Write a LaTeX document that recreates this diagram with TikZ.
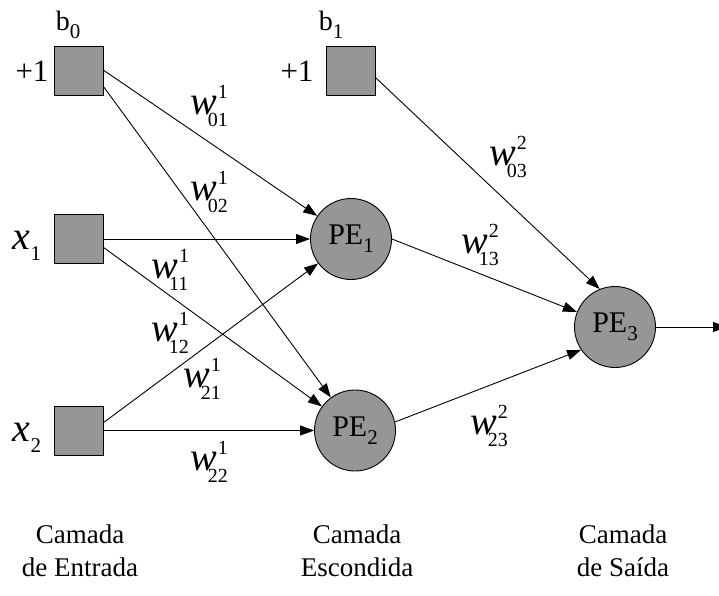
\documentclass[tikz,border=0pt]{standalone}
\usepackage{fontspec}
\setmainfont{Liberation Serif}
\usetikzlibrary{arrows.meta,calc}

% index sizes
\newcommand{\idxsz}{\fontsize{20}{20}\selectfont}
\newcommand{\subsz}{\fontsize{21}{21}\selectfont}
% weight label: italic w with layer superscript and index subscript
\newcommand{\wl}[2]{\textit{w}\kern1pt\rlap{\raisebox{16pt}{\idxsz #1}}\kern-10pt\raisebox{-12pt}{\idxsz #2}}
% upright text with a lowered index
\newcommand{\subl}[3]{#1\raisebox{-#3}{\subsz #2}}

\definecolor{nodegray}{RGB}{150,150,150}
\tikzset{
  unit/.style={draw=black, line width=0.9pt, fill=nodegray, minimum size=49pt, inner sep=0pt},
  neuron/.style={circle, draw=black, line width=0.9pt, fill=nodegray, minimum size=81pt, inner sep=0pt,
                 font=\fontsize{30}{30}\selectfont},
  lbl/.style={font=\fontsize{28}{28}\selectfont, inner sep=0pt},
  plus/.style={font=\fontsize{31}{31}\selectfont, inner sep=0pt},
  wlbl/.style={font=\fontsize{40}{40}\selectfont, inner sep=0pt},
  caption/.style={font=\fontsize{27}{33}\selectfont, align=center, inner sep=0pt},
  arr/.style={line width=0.9pt, -{Triangle[length=14pt,width=10pt]}}
}

\begin{document}
\begin{tikzpicture}[x=1pt,y=-1pt]
  \useasboundingbox (0,0) rectangle (719,596);

  % input layer
  \node[unit] (b0) at (79,70.5) {};
  \node[unit] (x1) at (79,239) {};
  \node[unit] (x2) at (79,430.5) {};
  % hidden bias
  \node[unit] (b1) at (351,70.5) {};
  % processing elements
  \node[neuron] (PE1) at (351,239) {\subl{PE}{1}{8pt}};
  \node[neuron] (PE2) at (355,430.5) {\subl{PE}{2}{8pt}};
  \node[neuron] (PE3) at (615,327) {\subl{PE}{3}{8pt}};
  \coordinate (out) at (727,327);

  % unit labels
  \node[lbl] (lb0) at (68,25) {\subl{b}{0}{8pt}};
  \node[plus] (lp0) at (32,71) {+1};
  \node[lbl] (lb1) at (331,25) {\subl{b}{1}{8pt}};
  \node[plus] (lp1) at (297,71) {+1};
  \node[wlbl] (lx1) at (27,246) {\textit{x}\raisebox{-11pt}{\subsz 1}};
  \node[wlbl] (lx2) at (27,438) {\textit{x}\raisebox{-11pt}{\subsz 2}};

  % connections
  \draw[arr] (b0.east) -- (PE1);
  \draw[arr] ($(b0.east)!0.67!(b0.south east)$) -- (PE2);
  \draw[arr] (x1.east) -- (PE1);
  \draw[arr] ($(x1.east)!0.35!(x1.south east)$) -- (PE2);
  \draw[arr] ($(x2.east)!0.33!(x2.north east)$) -- (PE1);
  \draw[arr] (x2.east) -- (PE2);
  \draw[arr] ($(b1.east)!0.3!(b1.south east)$) -- (PE3.112);
  \draw[arr] (PE1.east) -- (PE3);
  \draw[arr] (PE2.12) -- (PE3.214);
  \draw[arr] (PE3.east) -- (out);

  % weights
  \node[wlbl] (w01) at (209,106) {\wl{1}{01}};
  \node[wlbl] (w02) at (209,192) {\wl{1}{02}};
  \node[wlbl] (w11) at (170,270) {\wl{1}{11}};
  \node[wlbl] (w12) at (170,333) {\wl{1}{12}};
  \node[wlbl] (w21) at (202,379) {\wl{1}{21}};
  \node[wlbl] (w22) at (209,462) {\wl{1}{22}};
  \node[wlbl] (w03) at (508,157) {\wl{2}{03}};
  \node[wlbl] (w13) at (480,245) {\wl{2}{13}};
  \node[wlbl] (w23) at (489,426) {\wl{2}{23}};

  % layer captions
  \node[caption] (c1) at (80,551) {Camada\\de Entrada};
  \node[caption] (c2) at (357,551) {Camada\\Escondida};
  \node[caption] (c3) at (623,551) {Camada\\de Saída};
\end{tikzpicture}
\end{document}
